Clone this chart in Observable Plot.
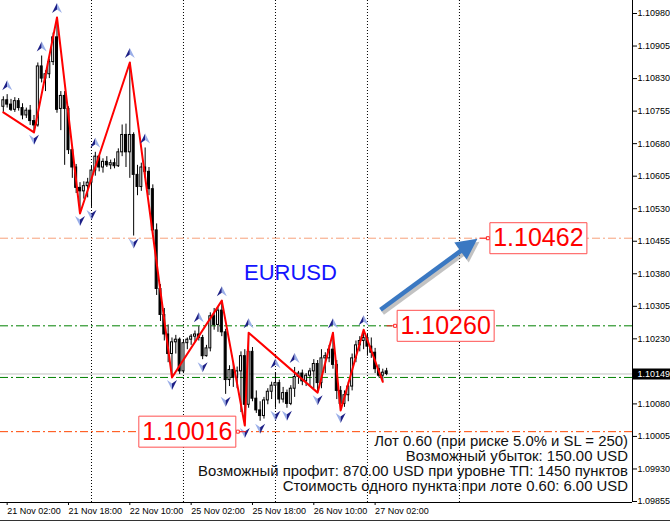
<!DOCTYPE html>
<html><head><meta charset="utf-8">
<script src="https://cdn.jsdelivr.net/npm/d3@7"></script>
<script src="https://cdn.jsdelivr.net/npm/@observablehq/plot@0.6"></script>
<style>
html,body{margin:0;padding:0;background:#fff;}
#wrap{position:relative;width:670px;height:527px;overflow:hidden;}
#wrap svg{display:block;}
#edge{position:absolute;left:0;top:520px;width:670px;height:1px;background:#333;}
</style></head><body><div id="wrap"></div><div id="edge"></div>
<script>
// ---- data (EURUSD H1, bar 1 = 21 Nov 01:00) ----
const opens = [1.10765,1.10780,1.10770,1.10758,1.10778,1.10762,1.10745,1.10756,1.10732,1.10722,
 1.10858,1.10830,1.10840,1.10868,1.10925,1.10760,1.10790,1.10760,1.10665,1.10625,
 1.10578,1.10570,1.10582,1.10590,1.10618,1.10650,1.10625,1.10638,1.10630,1.10635,
 1.10628,1.10660,1.10700,1.10660,1.10700,1.10608,1.10580,1.10625,1.10615,1.10575,
 1.10480,1.10345,1.10285,1.10240,1.10195,1.10222,1.10228,1.10155,1.10220,1.10228,
 1.10235,1.10240,1.10232,1.10190,1.10208,1.10282,1.10262,1.10295,1.10245,1.10135,
 1.10158,1.10140,1.10155,1.10190,1.10078,1.10200,1.10092,1.10065,1.10052,1.10088,
 1.10108,1.10122,1.10128,1.10090,1.10105,1.10080,1.10115,1.10142,1.10150,1.10132,
 1.10145,1.10155,1.10172,1.10128,1.10185,1.10185,1.10205,1.10170,1.10110,1.10080,
 1.10100,1.10120,1.10185,1.10215,1.10225,1.10232,1.10212,1.10198,1.10160,1.10145,
 1.10155];
const highs = [1.10788,1.10793,1.10782,1.10786,1.10784,1.10772,1.10762,1.10768,1.10745,1.10866,
 1.10882,1.10848,1.10875,1.10935,1.10971,1.10800,1.10800,1.10765,1.10672,1.10632,
 1.10590,1.10592,1.10600,1.10628,1.10660,1.10652,1.10645,1.10650,1.10642,1.10645,
 1.10668,1.10723,1.10725,1.10867,1.10705,1.10630,1.10635,1.10670,1.10625,1.10585,
 1.10495,1.10355,1.10300,1.10262,1.10232,1.10238,1.10232,1.10228,1.10232,1.10240,
 1.10248,1.10258,1.10238,1.10215,1.10290,1.10300,1.10302,1.10318,1.10252,1.10168,
 1.10175,1.10165,1.10200,1.10205,1.10244,1.10210,1.10110,1.10085,1.10095,1.10115,
 1.10130,1.10152,1.10135,1.10118,1.10112,1.10122,1.10164,1.10155,1.10158,1.10150,
 1.10162,1.10182,1.10180,1.10205,1.10198,1.10215,1.10244,1.10180,1.10120,1.10110,
 1.10130,1.10195,1.10225,1.10235,1.10251,1.10240,1.10232,1.10208,1.10170,1.10160,
 1.10162];
const lows = [1.10752,1.10762,1.10754,1.10752,1.10755,1.10735,1.10738,1.10722,1.10706,1.10718,
 1.10820,1.10800,1.10830,1.10860,1.10750,1.10710,1.10630,1.10655,1.10600,1.10565,
 1.10519,1.10552,1.10555,1.10533,1.10605,1.10615,1.10612,1.10625,1.10620,1.10622,
 1.10625,1.10650,1.10625,1.10600,1.10467,1.10560,1.10570,1.10600,1.10560,1.10470,
 1.10330,1.10270,1.10225,1.10175,1.10141,1.10195,1.10148,1.10150,1.10205,1.10215,
 1.10222,1.10225,1.10182,1.10188,1.10200,1.10250,1.10245,1.10235,1.10102,1.10120,
 1.10118,1.10115,1.10060,1.10030,1.10070,1.10085,1.10058,1.10040,1.10045,1.10078,
 1.10090,1.10070,1.10080,1.10082,1.10070,1.10076,1.10095,1.10125,1.10122,1.10120,
 1.10122,1.10115,1.10106,1.10115,1.10150,1.10175,1.10160,1.10090,1.10065,1.10072,
 1.10085,1.10110,1.10175,1.10200,1.10205,1.10190,1.10185,1.10150,1.10140,1.10131,
 1.10145];
const closes = [1.10780,1.10770,1.10758,1.10778,1.10762,1.10745,1.10756,1.10732,1.10722,1.10858,
 1.10830,1.10840,1.10868,1.10925,1.10758,1.10790,1.10760,1.10665,1.10625,1.10578,
 1.10570,1.10582,1.10590,1.10618,1.10650,1.10625,1.10638,1.10630,1.10635,1.10628,
 1.10660,1.10700,1.10660,1.10700,1.10608,1.10580,1.10625,1.10615,1.10575,1.10480,
 1.10345,1.10285,1.10240,1.10195,1.10222,1.10228,1.10155,1.10220,1.10228,1.10235,
 1.10240,1.10232,1.10190,1.10208,1.10282,1.10262,1.10295,1.10245,1.10135,1.10158,
 1.10140,1.10155,1.10190,1.10078,1.10200,1.10092,1.10065,1.10052,1.10088,1.10108,
 1.10122,1.10128,1.10090,1.10105,1.10080,1.10115,1.10142,1.10150,1.10132,1.10145,
 1.10155,1.10172,1.10128,1.10185,1.10190,1.10205,1.10170,1.10110,1.10080,1.10100,
 1.10120,1.10185,1.10215,1.10225,1.10232,1.10212,1.10198,1.10160,1.10145,1.10152,
 1.10149];

// ZigZag pivots (bar, price)
const zigBars   = [1, 9, 15, 21, 34, 45, 58, 64, 65, 83, 87, 89, 95, 100];
const zigPrices = [1.10752,1.10706,1.10971,1.10519,1.10867,1.10141,1.10318,1.10030,1.10244,1.10106,1.10244,1.10065,1.10251,1.10131];

// Fractals (bar numbers)
const fractalUp   = [2, 11, 15, 25, 34, 38, 52, 58, 65, 72, 77, 87, 95];
const fractalDown = [9, 21, 24, 35, 45, 53, 59, 64, 68, 72, 75, 83, 89];

// Axis ticks
const xTickBars   = [2, 18, 34, 50, 66, 82, 98];
const xTickLabels = ["21 Nov 02:00","21 Nov 18:00","22 Nov 10:00","25 Nov 02:00","25 Nov 18:00","26 Nov 10:00","27 Nov 02:00"];
const daySeparators = [24, 48, 72, 96, 120];
const yTicks = [1.10980,1.10905,1.10830,1.10755,1.10680,1.10605,1.10530,1.10455,1.10380,1.10305,1.10230,1.10080,1.10005,1.09930,1.09855];

// Levels
const bidPrice   = 1.10149;
const tpPrice    = 1.10462;
const entryPrice = 1.10260;
const slPrice    = 1.10016;
const lowGreen   = 1.10141;
const labelPrices = [1.10462, 1.10260, 1.10016];
const labelBars   = [140.6, 116.4, 49.0];
const labelSides  = [-1, -1, 1];   // marker on the left (-1) or right (1) of the box
const symbolName = "EURUSD";
const symbolAt = {bar: 75.9, price: 1.10382};
const arrowFrom = {bar: 99.4, price: 1.10297};
const arrowTo   = {bar: 124.7, price: 1.10461};
const infoLines = [
  "Лот 0.60 (при риске 5.0% и SL = 250)",
  "Возможный убыток: 150.00 USD",
  "Возможный профит: 870.00 USD при уровне ТП: 1450 пунктов",
  "Стоимость одного пункта при лоте 0.60: 6.00 USD"
];

// ---- build ----
const bars = opens.map((o, k) => ({i: k + 1, open: o, high: highs[k], low: lows[k], close: closes[k]}));
const zig = zigBars.map((b, k) => ({i: b, p: zigPrices[k]}));
const byI = new Map(bars.map(d => [d.i, d]));
const ups = fractalUp.map(b => byI.get(b));
const downs = fractalDown.map(b => byI.get(b));
const labels = labelPrices.map((p, k) => ({p, i: labelBars[k], side: labelSides[k], t: d3.format(".5f")(p)}));

const xDomain = [0.26, 165.15];
const yDomain = [1.098527, 1.110100];
const plotW = 632, plotH = 502;
const pxPerBar = plotW / (xDomain[1] - xDomain[0]);
const pxPerPrice = plotH / (yDomain[1] - yDomain[0]);
const adx = (arrowTo.bar - arrowFrom.bar) * pxPerBar;
const ady = -(arrowTo.price - arrowFrom.price) * pxPerPrice;
const angle = Math.atan2(ady, adx) * 180 / Math.PI + 90;
const shaftEnd = {bar: arrowFrom.bar + 0.86 * (arrowTo.bar - arrowFrom.bar), price: arrowFrom.price + 0.86 * (arrowTo.price - arrowFrom.price)};

const sym = f => ({draw(c, size) { const s = Math.sqrt(size / Math.PI); f(c, s); }});
const upL = sym((c, s) => { c.moveTo(0, -s); c.lineTo(-s, s); c.lineTo(0, s * 0.3); c.closePath(); });
const upR = sym((c, s) => { c.moveTo(0, -s); c.lineTo(s, s); c.lineTo(0, s * 0.3); c.closePath(); });
const dnL = sym((c, s) => { c.moveTo(0, s); c.lineTo(-s, -s); c.lineTo(0, -s * 0.3); c.closePath(); });
const dnR = sym((c, s) => { c.moveTo(0, s); c.lineTo(s, -s); c.lineTo(0, -s * 0.3); c.closePath(); });
const boxSym = (w, h) => ({draw(c) { c.rect(-w / 2, -h / 2, w, h); }});
const headSym = {draw(c) { c.moveTo(0, 0); c.lineTo(-10.5, 21); c.lineTo(10.5, 21); c.closePath(); }};
const markLeft  = {draw(c) { c.moveTo(-10, 0); c.lineTo(-3, 0); c.rect(-3, -1.5, 3, 3); }};
const markRight = {draw(c) { c.moveTo(10, 0); c.lineTo(3, 0); c.rect(0, -1.5, 3, 3); }};

const dashDot = "8,3,2,3";
const font = "Liberation Sans, Arial, sans-serif";

const chart = Plot.plot({
  width: 670, height: 527,
  marginLeft: 0, marginRight: 38, marginTop: 0, marginBottom: 25,
  style: {fontFamily: font, fontSize: "9px", background: "white", color: "black", overflow: "visible"},
  x: {type: "linear", domain: xDomain},
  y: {type: "linear", domain: yDomain},
  marks: [
    // day separators
    Plot.ruleX(daySeparators, {x: d => d, stroke: "#000", strokeDasharray: "1,2", strokeWidth: 1}),
    // level lines
    Plot.ruleY([bidPrice], {y: d => d, stroke: "#c0c0c0"}),
    Plot.ruleY([tpPrice], {y: d => d, stroke: "#f7a07a", strokeDasharray: dashDot}),
    Plot.ruleY([entryPrice, lowGreen], {y: d => d, stroke: "#008000", strokeDasharray: dashDot}),
    Plot.ruleY([slPrice], {y: d => d, stroke: "#ff4500", strokeDasharray: dashDot}),
    // candles
    Plot.ruleX(bars, {x: "i", y1: "low", y2: "high", stroke: "#000", strokeWidth: 1}),
    Plot.rect(bars, {x1: d => d.i - 0.26, x2: d => d.i + 0.26, y1: "open", y2: "close",
      fill: d => d.close >= d.open ? "#fff" : "#000", stroke: "#000", strokeWidth: 1}),
    // zigzag
    Plot.line(zig, {x: "i", y: "p", stroke: "#ff0000", strokeWidth: 2}),
    // fractals
    Plot.dot(ups, {x: "i", y: "high", r: 5, dy: -9.5, symbol: upL, fill: "#1c1f86", stroke: "none"}),
    Plot.dot(ups, {x: "i", y: "high", r: 5, dy: -9.5, symbol: upR, fill: "#9aaee8", stroke: "none"}),
    Plot.dot(downs, {x: "i", y: "low", r: 5, dy: 7.5, symbol: dnL, fill: "#9aaee8", stroke: "none"}),
    Plot.dot(downs, {x: "i", y: "low", r: 5, dy: 7.5, symbol: dnR, fill: "#1c1f86", stroke: "none"}),
    // symbol name
    Plot.text([symbolAt], {x: "bar", y: "price", text: () => symbolName, fontSize: 22, fill: "#1414ff", textAnchor: "middle", lineAnchor: "middle"}),
    // big arrow (shadow + body)
    Plot.link([{a: arrowFrom, b: shaftEnd}], {x1: d => d.a.bar, y1: d => d.a.price, x2: d => d.b.bar, y2: d => d.b.price, stroke: "#9a9a9a", strokeOpacity: 0.6, strokeWidth: 5, dx: 2, dy: 3}),
    Plot.dot([arrowTo], {x: "bar", y: "price", r: 10, symbol: headSym, rotate: angle, fill: "#9a9a9a", fillOpacity: 0.6, stroke: "none", dx: 2, dy: 3}),
    Plot.link([{a: arrowFrom, b: shaftEnd}], {x1: d => d.a.bar, y1: d => d.a.price, x2: d => d.b.bar, y2: d => d.b.price, stroke: "#3a78c2", strokeWidth: 4.5}),
    Plot.dot([arrowTo], {x: "bar", y: "price", r: 10, symbol: headSym, rotate: angle, fill: "#3a78c2", stroke: "none"}),
    // level labels
    Plot.dot(labels.filter(d => d.side < 0), {x: "i", y: "p", r: 5, symbol: markLeft, dx: -49, fill: "#fff", stroke: "#ff2020", strokeWidth: 1}),
    Plot.dot(labels.filter(d => d.side > 0), {x: "i", y: "p", r: 5, symbol: markRight, dx: 49, fill: "#fff", stroke: "#ff2020", strokeWidth: 1}),
    Plot.dot(labels, {x: "i", y: "p", r: 5, symbol: boxSym(97, 31), fill: "#fff", stroke: "#ff5050", strokeWidth: 1}),
    Plot.text(labels, {x: "i", y: "p", text: "t", fontSize: 25, fill: "#ff0000", textAnchor: "middle", lineAnchor: "middle"}),
    // info block
    Plot.text([infoLines.join("\n")], {frameAnchor: "bottom-right", dx: -4.5, dy: -12, textAnchor: "end", lineAnchor: "bottom", lineHeight: 0.99, fontSize: 14.9, fill: "#111"}),
    // frame edges
    Plot.ruleX([xDomain[1]], {x: d => d, stroke: "#000"}),
    Plot.ruleY([yDomain[0]], {y: d => d, stroke: "#000"}),
    // axes
    Plot.axisY(yTicks, {anchor: "right", tickSize: 4, tickPadding: 1, fontSize: 9, tickFormat: d3.format(".5f"), label: null}),
    Plot.axisX(xTickBars, {anchor: "bottom", tickSize: 3, tickPadding: 2, fontSize: 9, textAnchor: "start", dx: 0, tickFormat: d => xTickLabels[xTickBars.indexOf(d)], label: null}),
    // current price box
    Plot.dot([bidPrice], {x: () => xDomain[1], y: d => d, r: 5, symbol: boxSym(37, 11), dx: 19, fill: "#000", stroke: "none"}),
    Plot.text([bidPrice], {x: () => xDomain[1], y: d => d, text: d3.format(".5f"), dx: 5, textAnchor: "start", fill: "#fff", fontSize: 9})
  ]
});
document.getElementById("wrap").appendChild(chart);
</script></body></html>
